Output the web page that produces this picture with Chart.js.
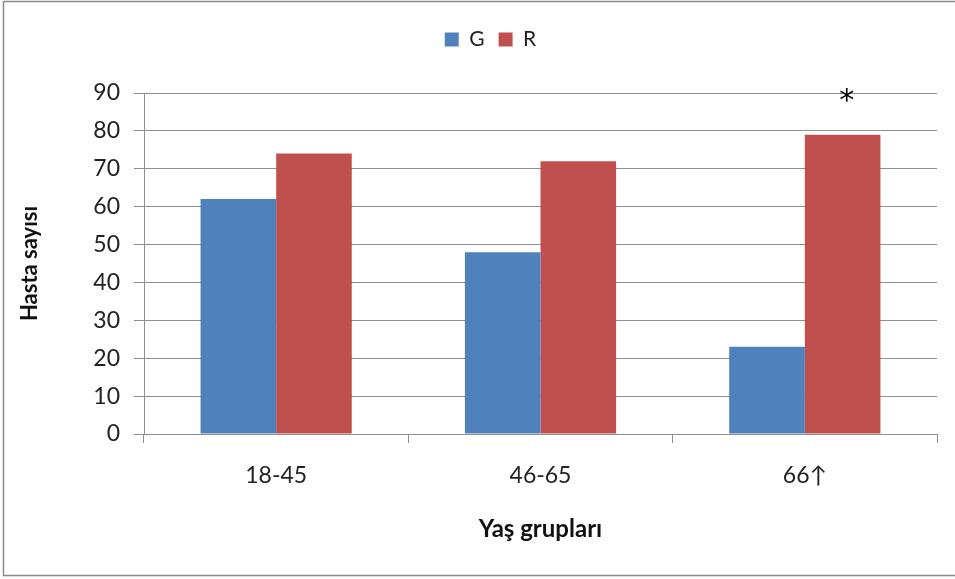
<!DOCTYPE html>
<html>
<head>
<meta charset="utf-8">
<script src="https://cdn.jsdelivr.net/npm/chart.js@4.4.1/dist/chart.umd.min.js"></script>
<style>
  html, body { margin: 0; padding: 0; background: #fff; }
  #wrap { width: 955px; height: 579px; }
</style>
</head>
<body>
<div id="wrap"><canvas id="chart" width="955" height="579"></canvas></div>
<script>
// Yaş grupları ve hasta sayıları
const ageGroups = ["18-45", "46-65", "66\u2191"];
const gValues = [62, 48, 23];
const rValues = [74, 72, 79];
const rStars = ["", "", "*"];
const yTicks = [0, 10, 20, 30, 40, 50, 60, 70, 80, 90];

const FONT = "Lato, 'Open Sans', sans-serif";
const gridColor = "#8e8e8e";

// çerçeve
const framePlugin = {
  id: "frame",
  beforeDraw(chart) {
    const c = chart.ctx;
    c.save();
    c.fillStyle = "#fff";
    c.fillRect(0, 0, chart.width, chart.height);
    c.strokeStyle = "#8a8a8a";
    c.lineWidth = 1.5;
    c.strokeRect(3.5, 1.5, chart.width + 10, chart.height - 5);
    c.restore();
  }
};

// legend yüksekliği ve konumu
const legendPad = {
  id: "legendPad",
  beforeInit(chart) {
    const fit = chart.legend.fit;
    chart.legend.fit = function () {
      fit.bind(this)();
      this.height = 78;
    };
  },
  afterLayout(chart) {
    chart.legend.left += 22;
    chart.legend.right += 22;
  }
};

// yıldız işareti
const starPlugin = {
  id: "stars",
  afterDatasetsDraw(chart) {
    const c = chart.ctx;
    const meta = chart.getDatasetMeta(1);
    const y = chart.scales.y.getPixelForValue(90);
    c.save();
    c.fillStyle = "#000";
    c.font = "30px 'DejaVu Sans', sans-serif";
    c.textAlign = "center";
    c.textBaseline = "alphabetic";
    rStars.forEach((s, i) => {
      if (!s) return;
      c.fillText(s, meta.data[i].x + 4, y + 17);
    });
    c.restore();
  }
};

new Chart(document.getElementById("chart"), {
  type: "bar",
  data: {
    labels: ageGroups,
    datasets: [
      { label: "G", data: gValues, backgroundColor: "#4f81bd", categoryPercentage: 0.572, barPercentage: 1 },
      { label: "R", data: rValues, backgroundColor: "#c0504d", categoryPercentage: 0.572, barPercentage: 1 }
    ]
  },
  options: {
    responsive: false,
    animation: false,
    layout: { padding: { top: 15, right: 18, bottom: 0, left: 0 } },
    plugins: {
      legend: {
        position: "top",
        labels: {
          boxWidth: 14,
          boxHeight: 14,
          padding: 14,
          color: "#222",
          font: { family: FONT, size: 21 }
        }
      },
      tooltip: { enabled: false }
    },
    scales: {
      x: {
        afterFit(scale) { scale.height = 145; },
        grid: {
          display: true,
          drawOnChartArea: false,
          drawTicks: true,
          tickLength: 9,
          color: gridColor
        },
        border: { display: true, color: gridColor },
        ticks: { color: "#222", padding: 19, font: { family: FONT, size: 23 } },
        title: {
          display: true,
          text: "Yaş grupları",
          color: "#111",
          font: { family: FONT, size: 24, weight: "bold" },
          padding: { top: 0, bottom: 35 }
        }
      },
      y: {
        min: 0,
        max: 90,
        afterFit(scale) { scale.width = 144; },
        afterBuildTicks(scale) { scale.ticks = yTicks.map(v => ({ value: v })); },
        grid: { color: gridColor, tickLength: 10 },
        border: { display: true, color: gridColor },
        ticks: { color: "#222", padding: 14, font: { family: FONT, size: 23 } },
        title: {
          display: true,
          text: "Hasta sayısı",
          color: "#111",
          font: { family: FONT, size: 22, weight: "bold" },
          padding: { top: 17, bottom: 0 }
        }
      }
    }
  },
  plugins: [framePlugin, legendPad, starPlugin]
});
</script>
</body>
</html>
